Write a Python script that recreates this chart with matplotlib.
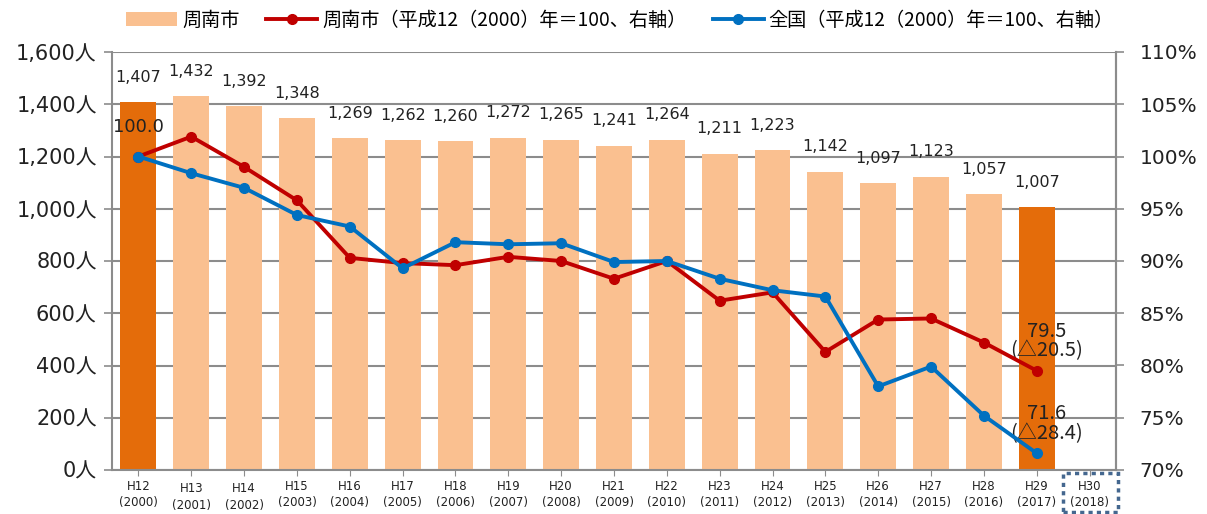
import matplotlib
matplotlib.use("Agg")
import matplotlib.pyplot as plt
from matplotlib.patches import Rectangle, Patch
import numpy as np

plt.rcParams['font.family'] = ['DejaVu Sans', 'Noto Sans CJK JP']

era = ["H12", "H13", "H14", "H15", "H16", "H17", "H18", "H19", "H20", "H21",
       "H22", "H23", "H24", "H25", "H26", "H27", "H28", "H29", "H30"]
years = ["2000", "2001", "2002", "2003", "2004", "2005", "2006", "2007", "2008", "2009",
         "2010", "2011", "2012", "2013", "2014", "2015", "2016", "2017", "2018"]
city_count = [1407, 1432, 1392, 1348, 1269, 1262, 1260, 1272, 1265, 1241,
              1264, 1211, 1223, 1142, 1097, 1123, 1057, 1007]
city_index = [100.0, 101.9, 99.0, 95.8, 90.3, 89.8, 89.6, 90.4, 90.0, 88.3,
              90.0, 86.2, 87.0, 81.3, 84.4, 84.5, 82.2, 79.5]
nation_index = [100.0, 98.4, 97.0, 94.4, 93.3, 89.3, 91.8, 91.6, 91.7, 89.9,
                90.0, 88.3, 87.2, 86.6, 78.0, 79.9, 75.2, 71.6]

light = "#FAC090"
dark = "#E46C0A"
red = "#C00000"
blue = "#0070C0"
grid_c = "#8C8C8C"
txt_c = "#222222"

fig = plt.figure(figsize=(12.07, 5.14), dpi=100)
ax = fig.add_axes([112/1207, 1-470/514, (1116-112)/1207, (470-52)/514])
ax2 = ax.twinx()

n = len(era)
x = np.arange(n)
colors = [dark if i in (0, len(city_count)-1) else light for i in range(len(city_count))]
ax.bar(x[:len(city_count)], city_count, width=0.68, color=colors, zorder=2)
for i, v in enumerate(city_count):
    ax.text(i, v + 95, f"{v:,}", ha="center", va="center", fontsize=11.5, color=txt_c, zorder=5)

ax.set_xlim(-0.5, n - 0.5)
ax.set_ylim(0, 1600)
ax.set_yticks(range(0, 1601, 200))
ax.set_yticklabels([f"{v:,}人" for v in range(0, 1601, 200)], fontsize=15, color=txt_c)
ax.yaxis.grid(True, color=grid_c, linewidth=1.5, zorder=0)
ax.set_axisbelow(True)
ax.set_xticks(x)
ax.set_xticklabels([f"{e}\n({y})" for e, y in zip(era, years)], fontsize=8.5, color=txt_c,
                   linespacing=1.35)
ax.tick_params(axis="x", length=4, color=grid_c, pad=3)
ax.tick_params(axis="y", length=6, color=grid_c, width=1.2, pad=5)
for i, lbl in enumerate(ax.get_xticklabels()):
    if i in (1, 2):
        lbl.set_y(-0.006)

for s in ["left", "right", "bottom"]:
    ax.spines[s].set_color(grid_c)
    ax.spines[s].set_linewidth(1.5)
ax.spines["top"].set_visible(False)
for s in ["top", "left", "bottom"]:
    ax2.spines[s].set_visible(False)
ax2.spines["right"].set_color(grid_c)
ax2.spines["right"].set_linewidth(1.5)

xi = x[:len(city_index)]
ax2.plot(xi, city_index, color=red, linewidth=2.8, marker="o", markersize=7, zorder=4)
ax2.plot(xi, nation_index, color=blue, linewidth=2.8, marker="o", markersize=7, zorder=4)
ax2.set_ylim(70, 110)
ax2.set_yticks(range(70, 111, 5))
ax2.set_yticklabels([f"{v}%" for v in range(70, 111, 5)], fontsize=14.5, color=txt_c)
ax2.tick_params(axis="y", length=6, color=grid_c, width=1.2, pad=11)

ax2.text(0, 102.8, f"{city_index[0]:.1f}", ha="center", va="center", fontsize=13, color=txt_c)
last = len(city_index) - 1
ann_font = ["Noto Sans CJK JP"]
ax2.text(last + 0.19, 80.4, f"{city_index[last]:.1f}\n(△{100-city_index[last]:.1f})", ha="center",
         va="bottom", fontsize=14.5, color=txt_c, linespacing=0.9, family=ann_font)
ax2.text(last + 0.19, 72.5, f"{nation_index[last]:.1f}\n(△{100-nation_index[last]:.1f})", ha="center",
         va="bottom", fontsize=14.5, color=txt_c, linespacing=0.9, family=ann_font)

# dashed box around H30 label
box = Rectangle((1063/1207, 1-512/514), (1118-1063)/1207, (512-473)/514, transform=fig.transFigure,
                fill=False, edgecolor="#44678F", linewidth=2.5, linestyle=(0, (1.2, 1.2)),
                clip_on=False)
fig.add_artist(box)

# legend
handles = [Patch(facecolor=light)] + ax2.get_lines()
fig.legend(handles=handles, labels=["周南市", "周南市（平成12（2000）年＝100、右軸）",
                                    "全国（平成12（2000）年＝100、右軸）"],
           loc="center", bbox_to_anchor=(620/1207, 1-20/514), ncol=3, frameon=False,
           handlelength=2.65, columnspacing=1.4, handletextpad=0.26,
           prop={"family": ["Noto Sans CJK JP"], "size": 13.8})

fig.savefig("out.png", dpi=100)
